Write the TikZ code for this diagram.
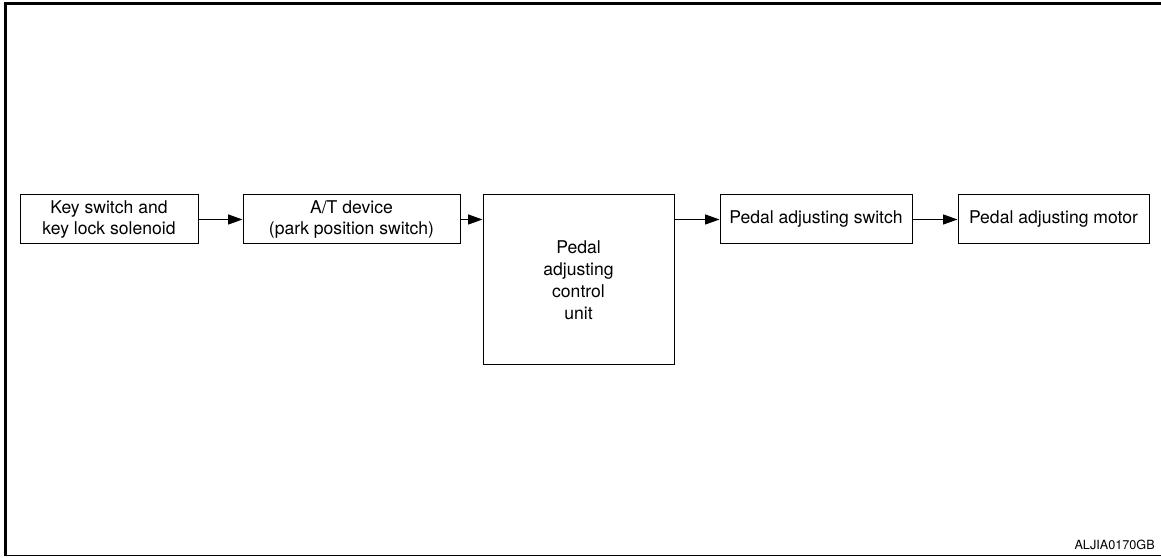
\documentclass[tikz,border=0pt]{standalone}
\usepackage{fontspec}
\setmainfont{TeX Gyre Heros}
\usetikzlibrary{arrows.meta}
\tikzset{
	unitbox/.style={draw, line width=0.7pt, inner sep=0pt, align=center, font=\fontsize{12.5}{15.6}\selectfont},
	flow/.style={line width=0.7pt, -{Triangle[length=0.36cm, width=0.25cm]}}
}

\begin{document}
\begin{tikzpicture}
		%%%%% START %%%%%
		
		\useasboundingbox (0, 0) rectangle (29.025, 13.95);
		
		\draw[line width=0.075cm] (0.1375, 0.0625) -- (0.1375, 13.8625) -- (29.025, 13.8625);
		\draw[line width=0.6pt] (0.1, 0.0625) -- (29.025, 0.0625);
		
		\node[unitbox, minimum width=4.45cm, minimum height=1.225cm] (keysw) at (2.725, 8.4625) {Key switch and\\key lock solenoid};
		\node[unitbox, minimum width=5.425cm, minimum height=1.225cm] (atdev) at (8.7875, 8.4625) {A/T device\\(park position switch)};
		\node[unitbox, minimum width=4.775cm, minimum height=4.25cm] (pacu) at (14.4625, 6.95) {Pedal\\adjusting\\control\\unit};
		\node[unitbox, minimum width=4.8cm, minimum height=1.225cm] (pedsw) at (20.4, 8.4625) {Pedal adjusting switch};
		\node[unitbox, minimum width=4.775cm, minimum height=1.225cm] (pedmot) at (26.3375, 8.4625) {Pedal adjusting motor};
		
		\draw[flow] (keysw) -- (atdev);
		\draw[flow] (atdev.east) -- (pacu.west |- atdev.east);
		\draw[flow] (pacu.east |- pedsw.west) -- (pedsw.west);
		\draw[flow] (pedsw) -- (pedmot);
		
		\node[anchor=base east, font=\fontsize{9}{10}\selectfont, inner sep=0pt] (figid) at (28.875, 0.2) {ALJIA0170GB};
		
		%%%%% END %%%%%
	\end{tikzpicture}
\end{document}
